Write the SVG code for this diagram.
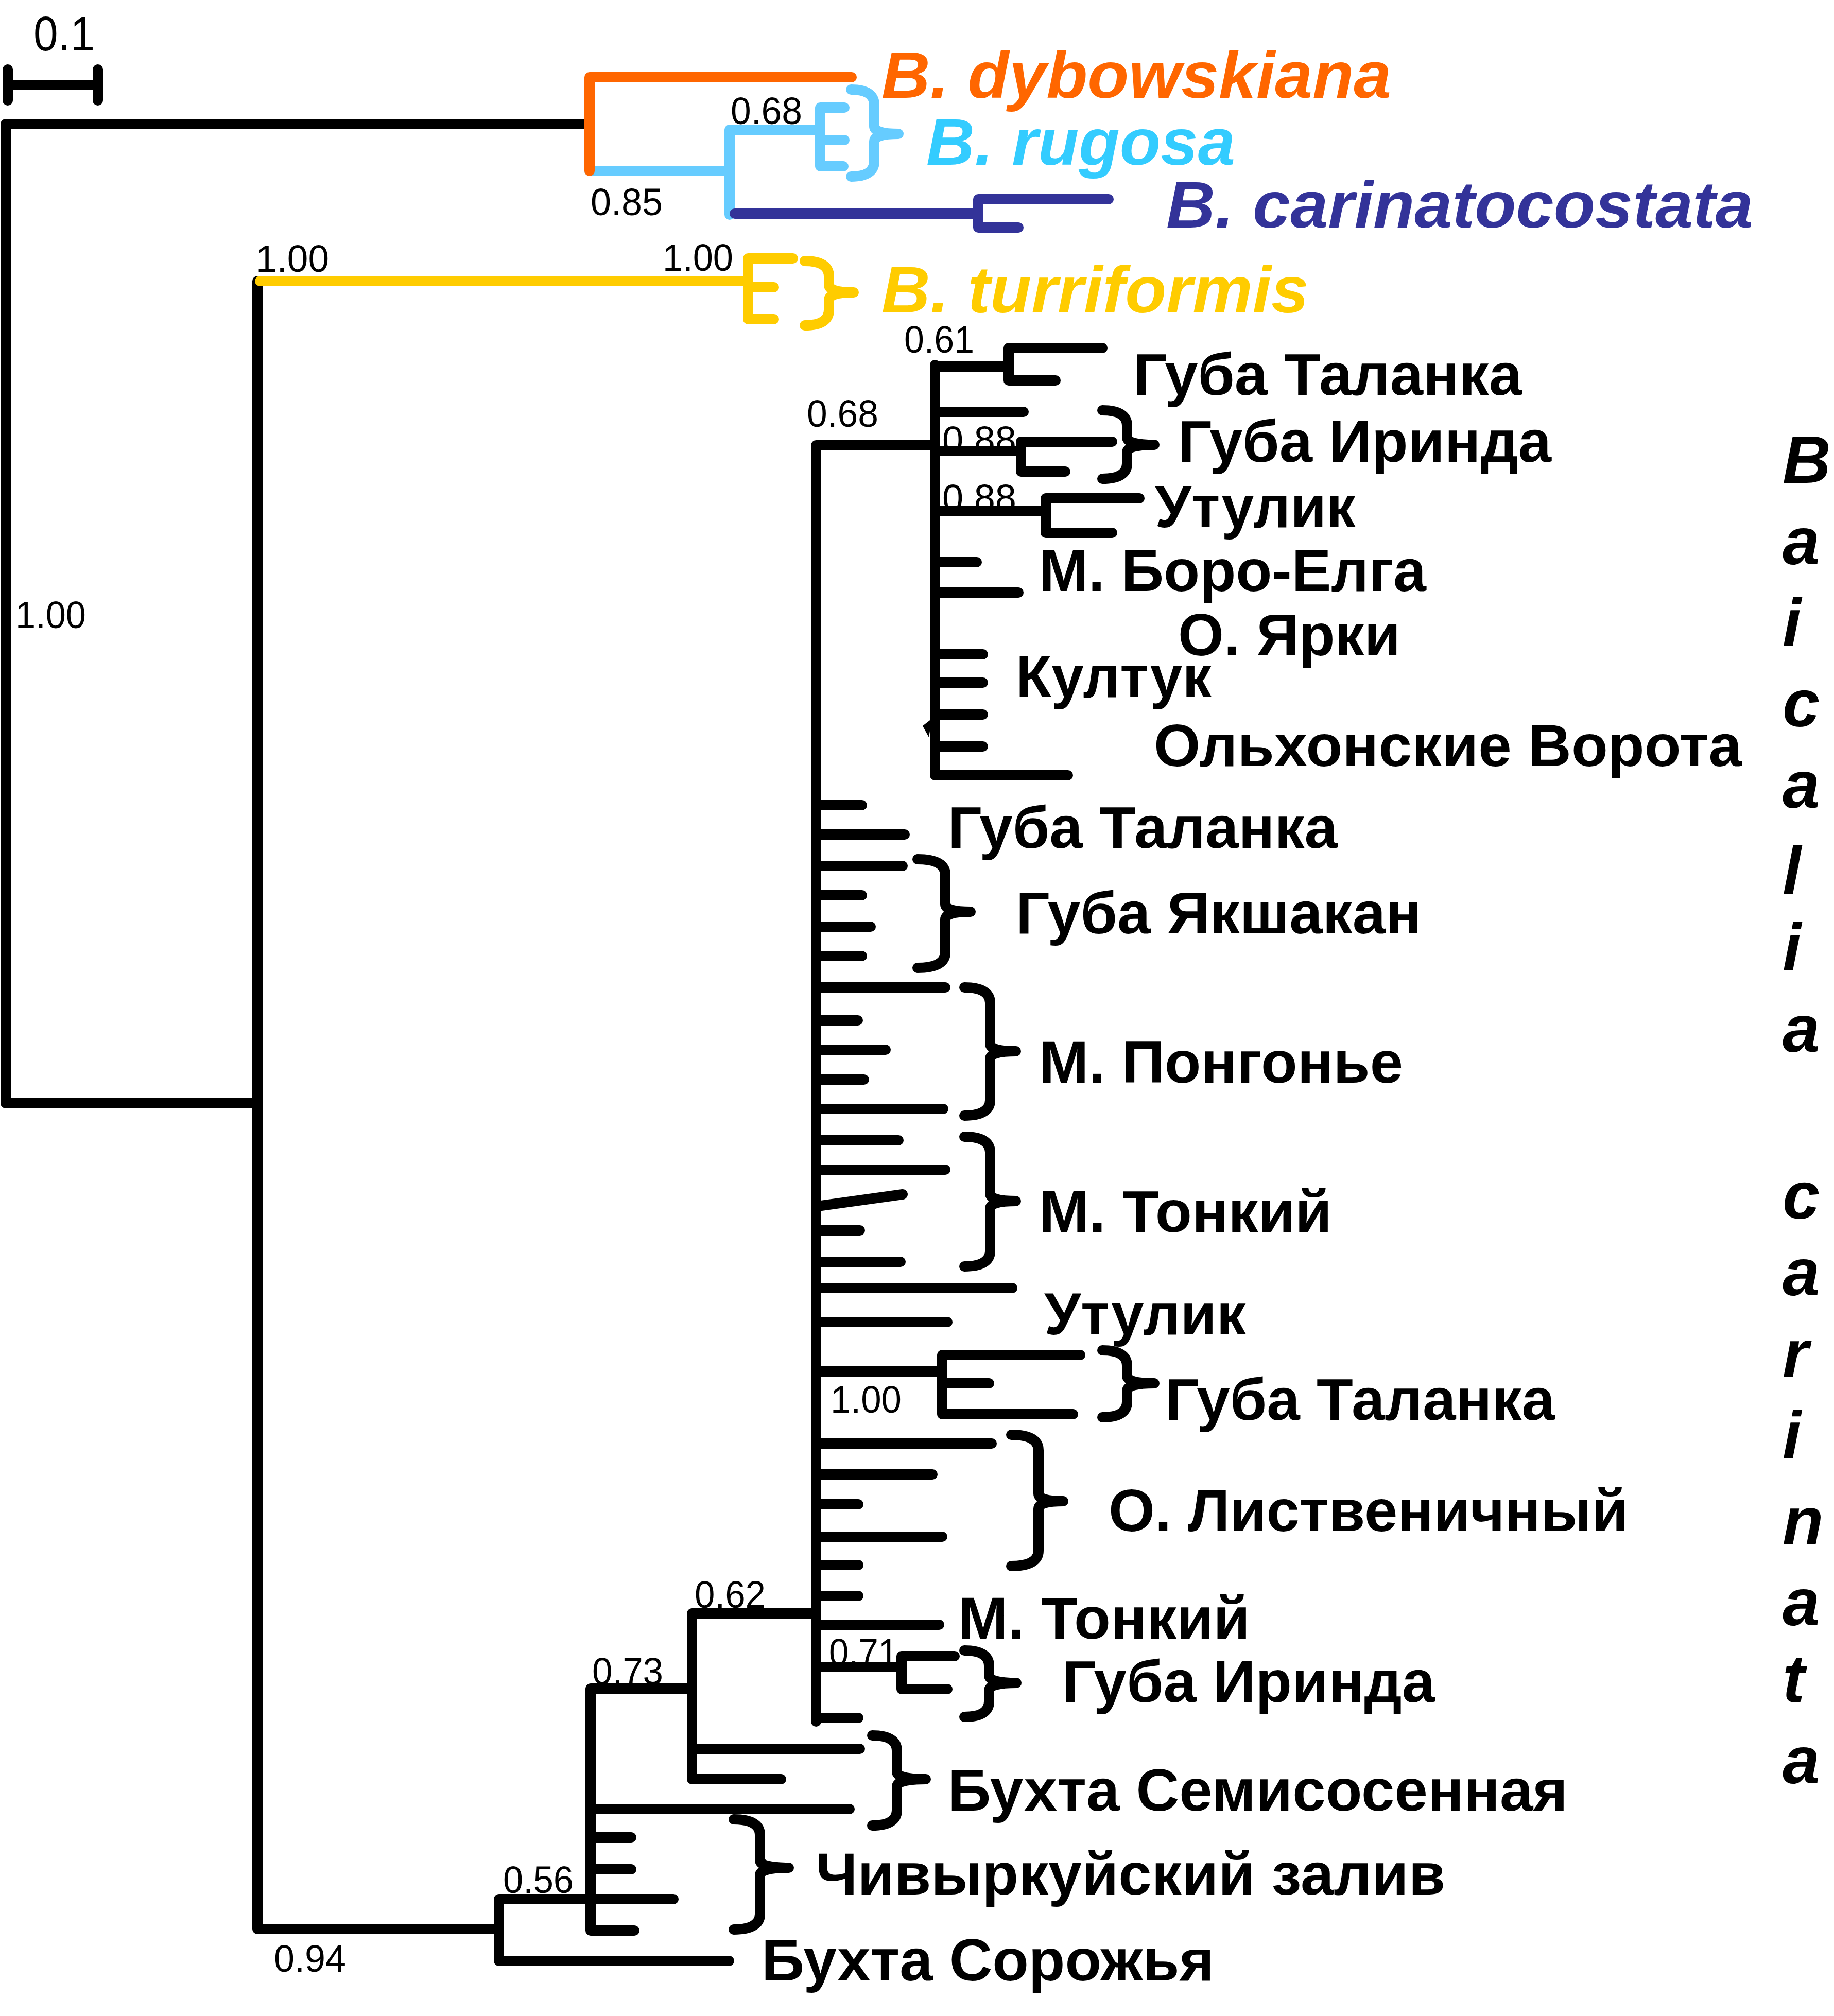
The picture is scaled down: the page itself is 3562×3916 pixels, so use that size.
<svg xmlns="http://www.w3.org/2000/svg" width="3562" height="3916" viewBox="0 0 3562 3916">
<style>
.br{fill:none;stroke:#000;stroke-width:20;stroke-linecap:round;stroke-linejoin:round}
.or{stroke:#FF6600}
.lb{stroke:#66CCFF}
.db{stroke:#333399}
.ye{stroke:#FFCC00}
.num{font-family:"Liberation Sans",Arial,sans-serif;font-size:74px;fill:#000}
.lab{font-family:"Liberation Sans",Arial,sans-serif;font-size:115px;font-weight:bold;fill:#000}
.sp{font-family:"Liberation Sans",Arial,sans-serif;font-size:128px;font-weight:bold;font-style:italic}
</style>
<rect width="3562" height="3916" fill="#fff"/>

<g id="connectors">
<!-- scale bar -->
<path class="br" d="M15 165H190M15 135V195M190 135V195"/>
<!-- root -->
<path class="br" d="M11 241H1145M11 241V2143H500M500 546V3747H969"/>
<!-- light blue clade -->
<path class="br lb" d="M1145 332H1417M1417 252V417M1417 252H1593M1593 209V323M1593 209H1640M1593 272H1640M1593 323H1638"/>
<!-- orange -->
<path class="br or" d="M1145 150V332M1145 150H1654"/>
<!-- dark blue -->
<path class="br db" d="M1427 415H1900M1900 387V442M1900 387H2153M1900 442H1978"/>
<!-- yellow -->
<path class="br ye" d="M505 546H1453M1453 502V620M1453 502H1540M1453 558H1503M1453 620H1503"/>
<!-- 0.94 / 0.56 / 0.73 / 0.62 -->
<path class="br" d="M969 3689V3809H1416M969 3689H1308M1147 3280V3750H1232M1147 3280H1344M1147 3514H1650M1147 3569H1226M1147 3631H1226M1344 3134V3456H1517M1344 3134H1585M1344 3397H1670"/>
<!-- main Baikal clade -->
<path class="br" d="M1585 865V3344M1585 865H1816"/>
<path class="br" d="M1816 709V1506H2074M1816 712H1959M1959 676V739M1959 676H2141M1959 739H2050M1816 800H1988M1816 876H1983M1983 858V916M1983 858H2160M1983 916H2069M1816 993H2031M2031 968V1035M2031 968H2213M2031 1035H2160M1816 1092H1897M1816 1151H1978M1816 1271H1909M1816 1326H1909M1816 1388H1909M1816 1450H1909"/>
<path d="M1810 1396L1792 1410L1804 1432Z" fill="#000"/>
<path class="br" d="M1585 1564H1674M1585 1621H1757M1585 1682H1753M1585 1739H1674M1585 1800H1691M1585 1857H1674M1585 1918H1836M1585 1982H1666M1585 2039H1720M1585 2097H1678M1585 2154H1832M1585 2215H1745M1585 2272H1836M1595 2342L1753 2320M1585 2390H1670M1585 2451H1749M1585 2502H1966M1585 2568H1840"/>
<path class="br" d="M1585 2664H1830M1830 2632V2747M1830 2632H2098M1830 2687H1921M1830 2747H2084"/>
<path class="br" d="M1585 2804H1926M1585 2864H1811M1585 2922H1667M1585 2985H1830M1585 3040H1667M1585 3100H1667M1585 3156H1824M1585 3238H1751M1751 3217V3281M1751 3217H1854M1751 3281H1840M1585 3337H1667"/>
</g>

<g id="braces">
<path class="br lb" d="M1653 174Q1698 174 1698 204V245Q1698 260 1745 260Q1698 260 1698 275V313Q1698 343 1653 343"/>
<path class="br ye" d="M1563 507Q1610 507 1610 537V553Q1610 568 1658 568Q1610 568 1610 583V602Q1610 632 1563 632"/>
<path class="br" d="M2141 797Q2189 797 2189 827V849Q2189 864 2242 864Q2189 864 2189 879V900Q2189 930 2141 930"/>
<path class="br" d="M1782 1669Q1836 1669 1836 1699V1756Q1836 1771 1885 1771Q1836 1771 1836 1786V1850Q1836 1880 1782 1880"/>
<path class="br" d="M1873 1918Q1923 1918 1923 1948V2027Q1923 2042 1973 2042Q1923 2042 1923 2057V2137Q1923 2167 1873 2167"/>
<path class="br" d="M1873 2208Q1923 2208 1923 2238V2318Q1923 2333 1973 2333Q1923 2333 1923 2348V2430Q1923 2460 1873 2460"/>
<path class="br" d="M2141 2623Q2189 2623 2189 2653V2672Q2189 2687 2242 2687Q2189 2687 2189 2702V2723Q2189 2753 2141 2753"/>
<path class="br" d="M1964 2787Q2017 2787 2017 2817V2901Q2017 2916 2065 2916Q2017 2916 2017 2931V3012Q2017 3042 1964 3042"/>
<path class="br" d="M1873 3206Q1921 3206 1921 3236V3254Q1921 3269 1974 3269Q1921 3269 1921 3284V3305Q1921 3335 1873 3335"/>
<path class="br" d="M1694 3371Q1742 3371 1742 3401V3441Q1742 3456 1798 3456Q1742 3456 1742 3471V3516Q1742 3546 1694 3546"/>
<path class="br" d="M1425 3534Q1476 3534 1476 3564V3613Q1476 3628 1532 3628Q1476 3628 1476 3643V3718Q1476 3748 1425 3748"/>
</g>

<g id="support-values">
<text class="num" x="65" y="98" style="font-size:95px" textLength="119" lengthAdjust="spacingAndGlyphs">0.1</text>
<text class="num" x="30" y="1220" textLength="137" lengthAdjust="spacingAndGlyphs">1.00</text>
<text class="num" x="497" y="528" textLength="142" lengthAdjust="spacingAndGlyphs">1.00</text>
<text class="num" x="1287" y="526" textLength="137" lengthAdjust="spacingAndGlyphs">1.00</text>
<text class="num" x="1147" y="418" textLength="140" lengthAdjust="spacingAndGlyphs">0.85</text>
<text class="num" x="1419" y="241" textLength="139" lengthAdjust="spacingAndGlyphs">0.68</text>
<text class="num" x="1756" y="685" textLength="136" lengthAdjust="spacingAndGlyphs">0.61</text>
<text class="num" x="1567" y="829" textLength="139" lengthAdjust="spacingAndGlyphs">0.68</text>
<text class="num" x="1830" y="880" textLength="144" lengthAdjust="spacingAndGlyphs">0.88</text>
<text class="num" x="1830" y="993" textLength="144" lengthAdjust="spacingAndGlyphs">0.88</text>
<text class="num" x="1613" y="2744" textLength="138" lengthAdjust="spacingAndGlyphs">1.00</text>
<text class="num" x="1610" y="3235" textLength="134" lengthAdjust="spacingAndGlyphs">0.71</text>
<text class="num" x="1349" y="3123" textLength="138" lengthAdjust="spacingAndGlyphs">0.62</text>
<text class="num" x="1150" y="3272" textLength="138" lengthAdjust="spacingAndGlyphs">0.73</text>
<text class="num" x="977" y="3677" textLength="137" lengthAdjust="spacingAndGlyphs">0.56</text>
<text class="num" x="532" y="3830" textLength="140" lengthAdjust="spacingAndGlyphs">0.94</text>
</g>

<g id="sp-dybowskiana"><text class="sp" x="1712" y="190" fill="#FF6600" textLength="990" lengthAdjust="spacingAndGlyphs">B. dybowskiana</text></g>
<g id="sp-rugosa"><text class="sp" x="1799" y="320" fill="#33CCFF" textLength="600" lengthAdjust="spacingAndGlyphs">B. rugosa</text></g>
<g id="sp-carinatocostata"><text class="sp" x="2265" y="442" fill="#333399" textLength="1140" lengthAdjust="spacingAndGlyphs">B. carinatocostata</text></g>
<g id="sp-turriformis"><text class="sp" x="1712" y="607" fill="#FFCC00" textLength="830" lengthAdjust="spacingAndGlyphs">B. turriformis</text></g>

<g id="leaf-1"><text class="lab" x="2201" y="767" textLength="755" lengthAdjust="spacingAndGlyphs">Губа Таланка</text></g>
<g id="leaf-2"><text class="lab" x="2288" y="897" textLength="725" lengthAdjust="spacingAndGlyphs">Губа Иринда</text></g>
<g id="leaf-3"><text class="lab" x="2243" y="1024" textLength="390" lengthAdjust="spacingAndGlyphs">Утулик</text></g>
<g id="leaf-4"><text class="lab" x="2018" y="1148" textLength="752" lengthAdjust="spacingAndGlyphs">М. Боро-Елга</text></g>
<g id="leaf-5"><text class="lab" x="2288" y="1273" textLength="432" lengthAdjust="spacingAndGlyphs">О. Ярки</text></g>
<g id="leaf-6"><text class="lab" x="1973" y="1354" textLength="380" lengthAdjust="spacingAndGlyphs">Култук</text></g>
<g id="leaf-7"><text class="lab" x="2241" y="1488" textLength="1142" lengthAdjust="spacingAndGlyphs">Ольхонские Ворота</text></g>
<g id="leaf-8"><text class="lab" x="1841" y="1647" textLength="757" lengthAdjust="spacingAndGlyphs">Губа Таланка</text></g>
<g id="leaf-9"><text class="lab" x="1973" y="1813" textLength="788" lengthAdjust="spacingAndGlyphs">Губа Якшакан</text></g>
<g id="leaf-10"><text class="lab" x="2018" y="2103" textLength="707" lengthAdjust="spacingAndGlyphs">М. Понгонье</text></g>
<g id="leaf-11"><text class="lab" x="2018" y="2393" textLength="569" lengthAdjust="spacingAndGlyphs">М. Тонкий</text></g>
<g id="leaf-12"><text class="lab" x="2028" y="2592" textLength="392" lengthAdjust="spacingAndGlyphs">Утулик</text></g>
<g id="leaf-13"><text class="lab" x="2263" y="2758" textLength="757" lengthAdjust="spacingAndGlyphs">Губа Таланка</text></g>
<g id="leaf-14"><text class="lab" x="2153" y="2974" textLength="1009" lengthAdjust="spacingAndGlyphs">О. Лиственичный</text></g>
<g id="leaf-15"><text class="lab" x="1861" y="3183" textLength="567" lengthAdjust="spacingAndGlyphs">М. Тонкий</text></g>
<g id="leaf-16"><text class="lab" x="2063" y="3306" textLength="724" lengthAdjust="spacingAndGlyphs">Губа Иринда</text></g>
<g id="leaf-17"><text class="lab" x="1841" y="3517" textLength="1204" lengthAdjust="spacingAndGlyphs">Бухта Семисосенная</text></g>
<g id="leaf-18"><text class="lab" x="1584" y="3680" textLength="1223" lengthAdjust="spacingAndGlyphs">Чивыркуйский залив</text></g>
<g id="leaf-19"><text class="lab" x="1479" y="3847" textLength="879" lengthAdjust="spacingAndGlyphs">Бухта Сорожья</text></g>

<g id="clade-name">
<text class="sp" fill="#000" style="font-size:130px">
<tspan x="3462" y="938">B</tspan>
<tspan x="3462" y="1096">a</tspan>
<tspan x="3462" y="1254">i</tspan>
<tspan x="3462" y="1411">c</tspan>
<tspan x="3462" y="1569">a</tspan>
<tspan x="3462" y="1736">l</tspan>
<tspan x="3462" y="1885">i</tspan>
<tspan x="3462" y="2043">a</tspan>
<tspan x="3462" y="2367">c</tspan>
<tspan x="3462" y="2516">a</tspan>
<tspan x="3462" y="2674">r</tspan>
<tspan x="3462" y="2832">i</tspan>
<tspan x="3462" y="2999">n</tspan>
<tspan x="3462" y="3157">a</tspan>
<tspan x="3462" y="3306">t</tspan>
<tspan x="3462" y="3464">a</tspan>
</text>
</g>
</svg>
